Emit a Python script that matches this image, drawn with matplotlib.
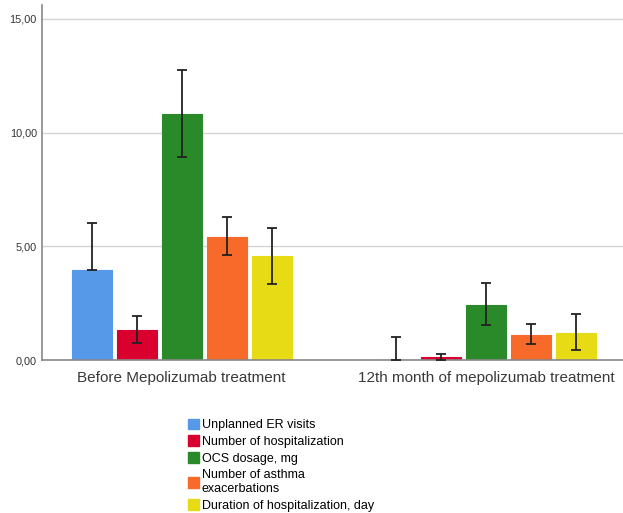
import numpy as np
import matplotlib.pyplot as plt
from matplotlib.patches import Patch
from matplotlib.ticker import FuncFormatter

plt.rcParams['font.family'] = ['Liberation Sans', 'DejaVu Sans']

groups = ["Before Mepolizumab treatment", "12th month of mepolizumab treatment"]
series = ["Unplanned ER visits", "Number of hospitalization", "OCS dosage, mg",
          "Number of asthma\nexacerbations", "Duration of hospitalization, day"]
colors = ["#5599e8", "#d9002f", "#2a8a2a", "#f76a2a", "#e6db14"]

# means per series: [before, 12th month]
means = [[3.97, 0.0], [1.32, 0.13], [10.80, 2.42], [5.42, 1.10], [4.58, 1.19]]
ci_low = [[3.97, 0.0], [0.75, 0.0], [8.94, 1.54], [4.63, 0.70], [3.35, 0.44]]
ci_high = [[6.02, 1.01], [1.94, 0.26], [12.73, 3.39], [6.30, 1.59], [5.82, 2.03]]

fig = plt.figure(figsize=(6.23, 5.13), dpi=100)
ax = fig.add_axes([0.067, 0.298, 0.933, 0.692])

x = np.arange(len(groups))
width = 0.132
step = 0.148
for i, (name, col) in enumerate(zip(series, colors)):
    pos = x + (i - 2) * step
    m = np.array(means[i])
    lo = m - np.array(ci_low[i])
    hi = np.array(ci_high[i]) - m
    ax.bar(pos, m, width, color=col, edgecolor=col, linewidth=0.8, zorder=2)
    ax.errorbar(pos, m, yerr=[lo, hi], fmt="none", ecolor="#222222",
                elinewidth=1.3, capsize=3.5, capthick=1.3, zorder=3)

ax.set_xlim(-0.46, 1.45)
ax.set_ylim(0, 15.6)
ax.set_yticks([0, 5, 10, 15])
ax.yaxis.set_major_formatter(FuncFormatter(lambda v, p: f"{v:.2f}".replace(".", ",")))
ax.grid(axis="y", color="#d4d4d4", linewidth=1.0, zorder=0)
ax.set_axisbelow(True)
ax.set_xticks(x)
ax.set_xticklabels(groups, fontsize=11, color="#3a3a3a")
ax.tick_params(axis="x", length=0, pad=8)
ax.tick_params(axis="y", length=0, labelsize=7.8, colors="#333333", pad=3.5)
for s in ["top", "right"]:
    ax.spines[s].set_visible(False)
for s in ["left", "bottom"]:
    ax.spines[s].set_color("#888888")
    ax.spines[s].set_linewidth(1.2)

handles = [Patch(facecolor=c, edgecolor=c) for c in colors]
fig.legend(handles, series, loc="upper left", bbox_to_anchor=(0.302, 0.184),
           frameon=False, fontsize=9, handlelength=0.85, handleheight=0.9,
           handletextpad=0.25, labelspacing=0.35, borderaxespad=0, borderpad=0)

fig.savefig("out.png", dpi=100)
